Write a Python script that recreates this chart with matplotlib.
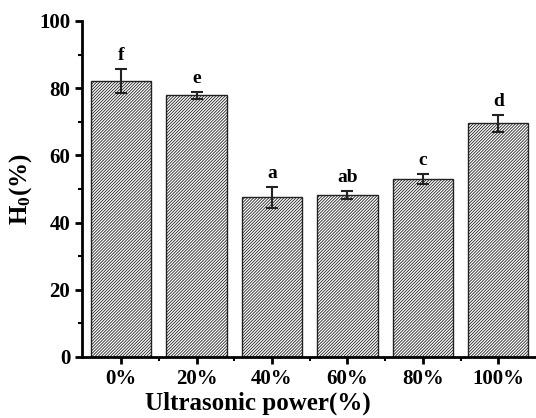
import matplotlib
matplotlib.use("Agg")
import matplotlib.pyplot as plt
import numpy as np
from matplotlib.ticker import MultipleLocator, FixedLocator

categories = ["0%", "20%", "40%", "60%", "80%", "100%"]
values = [82.2, 77.9, 47.5, 48.2, 52.9, 69.5]
errors = [3.6, 1.0, 3.2, 1.2, 1.5, 2.6]
letters = ["f", "e", "a", "ab", "c", "d"]

plt.rcParams['font.family'] = ['Liberation Serif', 'DejaVu Serif']
plt.rcParams['font.weight'] = 'bold'
plt.rcParams['mathtext.fontset'] = 'custom'
plt.rcParams['mathtext.rm'] = 'Liberation Serif:bold'
plt.rcParams['mathtext.bf'] = 'Liberation Serif:bold'
plt.rcParams['mathtext.it'] = 'Liberation Serif:bold'
plt.rcParams['hatch.linewidth'] = 0.6
plt.rcParams['hatch.color'] = '#333333'

fig = plt.figure(figsize=(5.36, 4.18), dpi=100)
ax = fig.add_axes([82/536, 61/418, 1 - 82/536, (357-21)/418])

x = np.arange(len(categories))
ax.bar(x, values, width=0.8, color='white', edgecolor='#222222', linewidth=1.0,
       hatch='///////////')
ax.errorbar(x, values, yerr=errors, fmt='none', ecolor='#222222', elinewidth=1.5,
            capsize=4, capthick=1.5)
for xi, v, e, t in zip(x, values, errors, letters):
    ax.text(xi, v + e + 2.6, t, ha='center', va='baseline', fontsize=14, fontweight='bold')

ax.set_xlim(-0.52, 5.5)
ax.set_ylim(0, 100)
ax.set_xticks(x)
ax.set_xticklabels(categories)
ax.xaxis.set_minor_locator(FixedLocator(np.arange(0.5, 5.5, 1)))
ax.yaxis.set_major_locator(MultipleLocator(20))
ax.yaxis.set_minor_locator(MultipleLocator(10))

for s in ['top', 'right']:
    ax.spines[s].set_visible(False)
for s in ['left', 'bottom']:
    ax.spines[s].set_linewidth(2)

ax.tick_params(axis='both', which='major', direction='out', length=5, width=2, labelsize=15)
ax.tick_params(axis='both', which='minor', direction='out', length=3, width=1.5)
ax.tick_params(axis='x', which='major', pad=4)

for lab in ax.get_xticklabels() + ax.get_yticklabels():
    lab.set_fontweight('bold')

ax.set_xlabel('Ultrasonic power(%)', fontsize=18, fontweight='bold')
ax.xaxis.set_label_coords((258-82)/(536-82), -0.103)
ax.set_ylabel(r'H$_\mathbf{0}$(%)', fontsize=18, fontweight='bold')
ax.yaxis.set_label_coords(-(82-34)/(536-82), 0.5)

fig.savefig('out.png', dpi=100)
